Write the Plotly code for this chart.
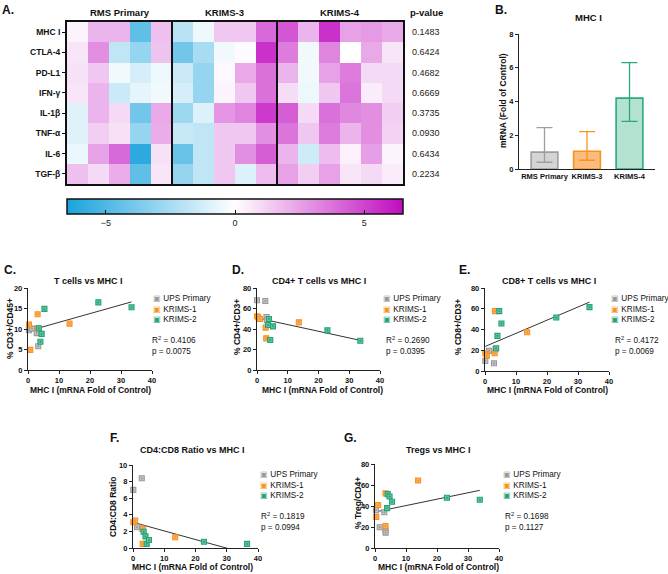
import plotly.graph_objects as go

W, H = 668, 574
FONT = "Arial, Liberation Sans, Helvetica, sans-serif"


def fx(px):
    return px / W


def fy(py):
    return 1 - py / H


# ---------------- Panel A data ----------------
genes = ["MHC I", "CTLA-4", "PD-L1", "IFN-γ", "IL-1β", "TNF-α", "IL-6", "TGF-β"]
groups = ["RMS Primary", "KRIMS-3", "KRIMS-4"]
group_sizes = [5, 5, 6]
heat_mhc = [0.3, 2.0, 2.0, -4.5, 1.7, -2.0, -0.5, 1.5, 1.5, 4.0, 4.5, 2.0, 5.5, 2.5, 2.7, 2.3]
heat_ctla4 = [0.7, 3.0, -1.8, -3.0, 1.6, -4.0, -2.5, -0.4, 0.1, 5.5, 3.5, -0.4, 3.3, 0.0, 2.3, 0.7]
heat_pdl1 = [0.8, 1.5, -0.4, -1.2, -0.5, -1.5, -3.0, 0.2, 2.3, 3.8, 2.0, -0.4, 2.5, 3.5, 1.0, 1.0]
heat_ifng = [0.7, 2.0, -1.5, -0.7, -0.4, -1.2, -3.0, 0.3, 1.5, 3.8, 0.9, -0.5, 1.5, 3.7, 0.5, 1.0]
heat_il1b = [-0.9, 2.0, 1.0, -4.0, 2.3, -2.8, -1.0, 2.8, 3.3, 5.3, 4.3, 1.0, 3.8, 3.2, 3.0, 1.3]
heat_tnfa = [-0.9, 1.3, 0.8, -3.0, 2.2, -1.6, -1.8, 1.5, 1.5, 3.0, 3.7, 1.5, 3.5, 2.0, 3.0, 1.2]
heat_il6 = [-0.6, 2.5, 4.0, -6.0, 0.8, -4.3, -1.8, 1.5, 3.0, 4.3, 2.0, -1.4, 1.8, 0.4, 2.6, 0.3]
heat_tgfb = [1.7, 1.0, 2.2, -4.5, 0.7, -3.0, -1.8, 1.5, -1.0, 1.8, 2.5, 1.3, 2.5, 0.7, 1.0, 0.5]
pvalues = ["0.1483", "0.6424", "0.4682", "0.6669", "0.3735", "0.0930", "0.6434", "0.2234"]
cbar_ticks = [-5, 0, 5]

# ---------------- Panel B data ----------------
bar_groups = ["RMS Primary", "KRIMS-3", "KRIMS-4"]
bar_mean = [1.0, 1.05, 4.2]
bar_upper = [2.45, 2.22, 6.3]
bar_lower = [0.4, 0.52, 2.82]

# ---------------- Scatter data ----------------
series_names = ["UPS Primary", "KRIMS-1", "KRIMS-2"]

c_ups_x = [0.3, 1.3, 2.8, 3.3]
c_ups_y = [9.7, 10.1, 9.0, 5.8]
c_k1_x = [0.3, 0.75, 3.1, 3.1, 13.4]
c_k1_y = [11.1, 4.9, 13.6, 10.2, 11.3]
c_k2_x = [3.5, 4.0, 4.4, 5.3, 22.7, 33.4]
c_k2_y = [10.2, 6.9, 8.8, 14.9, 16.5, 15.3]
c_fit = {"slope": 0.213, "intercept": 9.5, "x": [0.1, 33.4]}
c_stats = ("0.4106", "0.0075")

d_ups_x = [0.0, 2.7, 3.1, 3.2]
d_ups_y = [68.0, 67.3, 51.7, 48.5]
d_k1_x = [0.0, 0.4, 1.0, 2.8, 3.0, 13.6]
d_k1_y = [52.4, 51.4, 49.8, 41.3, 30.9, 46.5]
d_k2_x = [3.6, 3.9, 4.3, 5.2, 22.9, 33.6]
d_k2_y = [43.9, 49.8, 29.3, 42.6, 38.7, 28.6]
d_fit = {"slope": -0.651, "intercept": 50.8, "x": [0.0, 33.6]}
d_stats = ("0.2690", "0.0395")

e_ups_x = [0.1, 1.3, 2.9, 3.4]
e_ups_y = [9.7, 19.4, 7.4, 21.0]
e_k1_x = [0.1, 0.6, 3.1, 3.2, 13.6]
e_k1_y = [16.8, 14.8, 17.1, 57.7, 37.4]
e_k2_x = [3.6, 4.0, 4.6, 5.3, 23.0, 33.7]
e_k2_y = [21.9, 33.9, 57.7, 45.8, 51.6, 61.6]
e_fit = {"slope": 1.27, "intercept": 23.6, "x": [0.1, 33.7]}
e_stats = ("0.4172", "0.0069")

f_ups_x = [0.1, 1.3, 2.8, 3.0]
f_ups_y = [7.0, 2.5, 8.4, 2.3]
f_k1_x = [0.1, 0.7, 3.1, 3.2, 13.5]
f_k1_y = [3.1, 3.3, 0.5, 2.3, 1.3]
f_k2_x = [3.4, 4.0, 4.4, 5.1, 22.7, 36.5]
f_k2_y = [1.95, 1.4, 0.5, 0.96, 0.75, 0.5]
f_fit = {"slope": -0.104, "intercept": 3.1, "x": [0.1, 30.5]}
f_stats = ("0.1819", "0.0994")

g_ups_x = [0.3, 1.5, 3.0, 3.4, 3.4]
g_ups_y = [36.0, 19.7, 34.0, 16.6, 14.6]
g_k1_x = [0.4, 1.0, 3.4, 3.4, 13.9]
g_k1_y = [29.6, 41.0, 52.0, 21.0, 64.3]
g_k2_x = [3.9, 4.1, 4.7, 5.5, 23.2, 33.8]
g_k2_y = [38.0, 51.3, 49.0, 44.0, 47.8, 45.9]
g_fit = {"slope": 0.61, "intercept": 34.3, "x": [0.3, 33.8]}
g_stats = ("0.1698", "0.1127")

# ---------------- Styles ----------------
GRAY_FILL, GRAY_LINE = "#C4C4C4", "#9A9A9A"
ORANGE_FILL, ORANGE_LINE = "#F9AC62", "#F7941D"
GREEN_FILL, GREEN_LINE = "#63C3A2", "#24A376"
series_fill = [GRAY_FILL, ORANGE_FILL, GREEN_FILL]
series_line = [GRAY_LINE, ORANGE_LINE, GREEN_LINE]
bar_fill = ["#D4D4D4", "#FDBB7D", "#B4E2D0"]
bar_line = ["#9E9E9E", "#F7941D", "#2BA97D"]
AXC = "#222222"

fig = go.Figure()
annotations = []
shapes = []


def ann(text, x, y, size=9, bold=False, xanchor="center", yanchor="middle", **kw):
    annotations.append(dict(
        text=text, x=fx(x), y=fy(y), xref="paper", yref="paper",
        xanchor=xanchor, yanchor=yanchor, showarrow=False,
        font=dict(family=FONT, size=size, color="#111111",
                  weight="bold" if bold else "normal"), **kw))


# ---------------- Panel A ----------------
heat = [heat_mhc, heat_ctla4, heat_pdl1, heat_ifng, heat_il1b, heat_tnfa, heat_il6, heat_tgfb]
ncol = sum(group_sizes)
hx0, hx1, hy0, hy1 = 67, 403, 22, 184
fig.add_trace(go.Heatmap(
    z=heat, x=list(range(ncol)), y=list(range(len(genes))),
    zmin=-6.5, zmax=6.5,
    colorscale=[[0, "#1AA3DD"], [0.5, "#FFFFFF"], [1, "#C00CC0"]],
    xaxis="x", yaxis="y",
    colorbar=dict(
        orientation="h", x=fx((hx0 + hx1) / 2), xanchor="center",
        y=fy(199), yanchor="top", lenmode="pixels", len=hx1 - hx0,
        thickness=15, xpad=0, ypad=0,
        outlinewidth=1.5, outlinecolor="#111111",
        tickvals=cbar_ticks, ticks="inside", ticklen=4, tickcolor="#111111",
        tickfont=dict(family=FONT, size=9, color="#222222"),
    ),
    hoverinfo="skip",
))
fig.update_layout(
    xaxis=dict(domain=[fx(hx0), fx(hx1)], range=[-0.5, ncol - 0.5], automargin=False,
               showticklabels=False, ticks="", showgrid=False, zeroline=False,
               showline=True, mirror=True, linecolor="#111111", linewidth=2),
    yaxis=dict(domain=[fy(hy1), fy(hy0)], range=[len(genes) - 0.5, -0.5], automargin=False,
               tickvals=list(range(len(genes))), ticktext=genes,
               ticks="outside", ticklen=3, tickwidth=1.2, tickcolor="#111111",
               tickfont=dict(family=FONT, size=8.5, color="#111111", weight="bold"),
               showgrid=False, zeroline=False,
               showline=True, mirror=True, linecolor="#111111", linewidth=2),
)
# group separators and titles
start = 0
for gname, gs in zip(groups, group_sizes):
    if start > 0:
        shapes.append(dict(type="line", xref="x", yref="y domain",
                           x0=start - 0.5, x1=start - 0.5, y0=0, y1=1,
                           line=dict(color="#111111", width=2)))
    annotations.append(dict(text=gname, x=start + (gs - 1) / 2, y=fy(12),
                            xref="x", yref="paper", showarrow=False,
                            xanchor="center", yanchor="middle",
                            font=dict(family=FONT, size=9.5, color="#111111", weight="bold")))
    start += gs
ann("p-value", 426, 12, size=9.5, bold=True)
for i, pv in enumerate(pvalues):
    annotations.append(dict(text=pv, x=fx(426), y=i, xref="paper", yref="y",
                            showarrow=False,
                            font=dict(family=FONT, size=9, color="#222222")))
ann("A.", 0, 10, size=12, bold=True, xanchor="left")

# ---------------- Panel B ----------------
for i, g in enumerate(bar_groups):
    fig.add_trace(go.Bar(
        x=[g], y=[bar_mean[i]], width=0.63,
        marker=dict(color=bar_fill[i], line=dict(color=bar_line[i], width=1.6)),
        error_y=dict(type="data", symmetric=False,
                     array=[bar_upper[i] - bar_mean[i]],
                     arrayminus=[bar_mean[i] - bar_lower[i]],
                     color=bar_line[i], thickness=1.3, width=8),
        xaxis="x2", yaxis="y2", showlegend=False, hoverinfo="skip",
    ))
fig.update_layout(
    xaxis2=dict(domain=[fx(519), fx(655)], anchor="y2", range=[-0.6, 2.6], automargin=False,
                showline=True, linecolor=AXC, linewidth=1.2, ticks="", tickangle=0,
                tickfont=dict(family=FONT, size=7.5, color="#111111", weight="bold"),
                showgrid=False, zeroline=False),
    yaxis2=dict(domain=[fy(169), fy(34)], anchor="x2", range=[0, 8], dtick=2, automargin=False,
                showline=True, linecolor=AXC, linewidth=1.2, ticks="outside",
                ticklen=3, tickcolor=AXC,
                tickfont=dict(family=FONT, size=7.5, color="#111111", weight="bold"),
                showgrid=False, zeroline=False),
    bargap=0.3,
)
ann("MHC I", 588, 18, size=9.5, bold=True)
ann("mRNA (Fold of Control)", 503, 101, size=8.5, bold=True, textangle=-90)
ann("B.", 493, 10, size=12, bold=True, xanchor="left")

# ---------------- Scatter panels ----------------
panels = [
    dict(ax=3, xd=(28, 152), yd=(288, 370), yr=[0, 20], dt=5,
         data=[(c_ups_x, c_ups_y), (c_k1_x, c_k1_y), (c_k2_x, c_k2_y)], fit=c_fit, stats=c_stats,
         title="T cells vs MHC I", txy=(88, 281), ytitle="% CD3+/CD45+", yt=(10, 329),
         xt=(90, 390), leg=(151, 309), st=(150, 333), letter="C.", lxy=(2, 270)),
    dict(ax=4, xd=(257, 380), yd=(288, 370), yr=[0, 80], dt=20,
         data=[(d_ups_x, d_ups_y), (d_k1_x, d_k1_y), (d_k2_x, d_k2_y)], fit=d_fit, stats=d_stats,
         title="CD4+ T cells vs MHC I", txy=(319, 281), ytitle="% CD4+/CD3+", yt=(237, 327),
         xt=(322, 390), leg=(381, 309), st=(384, 333), letter="D.", lxy=(230, 270)),
    dict(ax=5, xd=(485, 609), yd=(288, 371), yr=[0, 80], dt=20,
         data=[(e_ups_x, e_ups_y), (e_k1_x, e_k1_y), (e_k2_x, e_k2_y)], fit=e_fit, stats=e_stats,
         title="CD8+ T cells vs MHC I", txy=(549, 281), ytitle="% CD8+/CD3+", yt=(458, 327),
         xt=(547, 390), leg=(609, 309), st=(613, 333), letter="E.", lxy=(457, 270)),
    dict(ax=6, xd=(133, 258), yd=(465, 548), yr=[0, 10], dt=2,
         data=[(f_ups_x, f_ups_y), (f_k1_x, f_k1_y), (f_k2_x, f_k2_y)], fit=f_fit, stats=f_stats,
         title="CD4:CD8 Ratio vs MHC I", txy=(193, 450), ytitle="CD4:CD8 Ratio", yt=(113, 507),
         xt=(193, 567), leg=(258, 485), st=(259, 509), letter="F.", lxy=(108, 438)),
    dict(ax=7, xd=(375, 499), yd=(464, 548), yr=[0, 80], dt=20,
         data=[(g_ups_x, g_ups_y), (g_k1_x, g_k1_y), (g_k2_x, g_k2_y)], fit=g_fit, stats=g_stats,
         title="Tregs vs MHC I", txy=(438, 450), ytitle="% Treg/CD4+", yt=(358, 503),
         xt=(438, 567), leg=(501, 485), st=(503, 509), letter="G.", lxy=(342, 438)),
]

layout_axes = {}
for p in panels:
    n = p["ax"]
    xa, ya = f"x{n}", f"y{n}"
    # regression line
    fx0, fx1 = p["fit"]["x"]
    fig.add_trace(go.Scatter(
        x=[fx0, fx1],
        y=[p["fit"]["intercept"] + p["fit"]["slope"] * fx0,
           p["fit"]["intercept"] + p["fit"]["slope"] * fx1],
        mode="lines", line=dict(color="#333333", width=1),
        xaxis=xa, yaxis=ya, showlegend=False, hoverinfo="skip"))
    for k, (xs, ys) in enumerate(p["data"]):
        fig.add_trace(go.Scatter(
            x=xs, y=ys, mode="markers", name=series_names[k],
            marker=dict(symbol="square-dot", size=5, color=series_fill[k],
                        line=dict(color=series_line[k], width=1.1)),
            cliponaxis=False, xaxis=xa, yaxis=ya, showlegend=False, hoverinfo="skip"))
    layout_axes[f"xaxis{n}"] = dict(
        domain=[fx(p["xd"][0]), fx(p["xd"][1])], anchor=ya, range=[0, 40], dtick=10,
        automargin=False,
        showline=True, linecolor=AXC, linewidth=1.2, ticks="outside", ticklen=3,
        tickcolor=AXC, tickfont=dict(family=FONT, size=7.5, color="#111111", weight="bold"),
        showgrid=False, zeroline=False)
    layout_axes[f"yaxis{n}"] = dict(
        domain=[fy(p["yd"][1]), fy(p["yd"][0])], anchor=xa, range=p["yr"], dtick=p["dt"],
        automargin=False,
        showline=True, linecolor=AXC, linewidth=1.2, ticks="outside", ticklen=3,
        tickcolor=AXC, tickfont=dict(family=FONT, size=7.5, color="#111111", weight="bold"),
        showgrid=False, zeroline=False)
    ann(p["title"], *p["txy"], size=9, bold=True)
    ann(p["ytitle"], *p["yt"], size=8.5, bold=True, textangle=-90)
    ann("MHC I (mRNA Fold of Control)", *p["xt"], size=8.5, bold=True)
    ann(p["letter"], *p["lxy"], size=12, bold=True, xanchor="left")
    leg_lines = [f"<span style='color:{series_line[k]}'>▣</span> {series_names[k]}"
                 for k in range(3)]
    ann("<br>".join(leg_lines), *p["leg"], size=8.2, xanchor="left", align="left")
    ann(f"R<sup>2</sup> = {p['stats'][0]}<br>p = {p['stats'][1]}", *p["st"], size=8.2,
        xanchor="left", yanchor="top", align="left")

fig.update_layout(**layout_axes)
fig.update_layout(
    width=W, height=H, margin=dict(l=0, r=0, t=0, b=0),
    paper_bgcolor="white", plot_bgcolor="white",
    showlegend=False, annotations=annotations, shapes=shapes,
    font=dict(family=FONT),
)
fig.write_html("out.html",
               config={"displayModeBar": False, "staticPlot": True},
               post_script="document.body.style.margin='0';document.body.style.overflow='hidden';")
